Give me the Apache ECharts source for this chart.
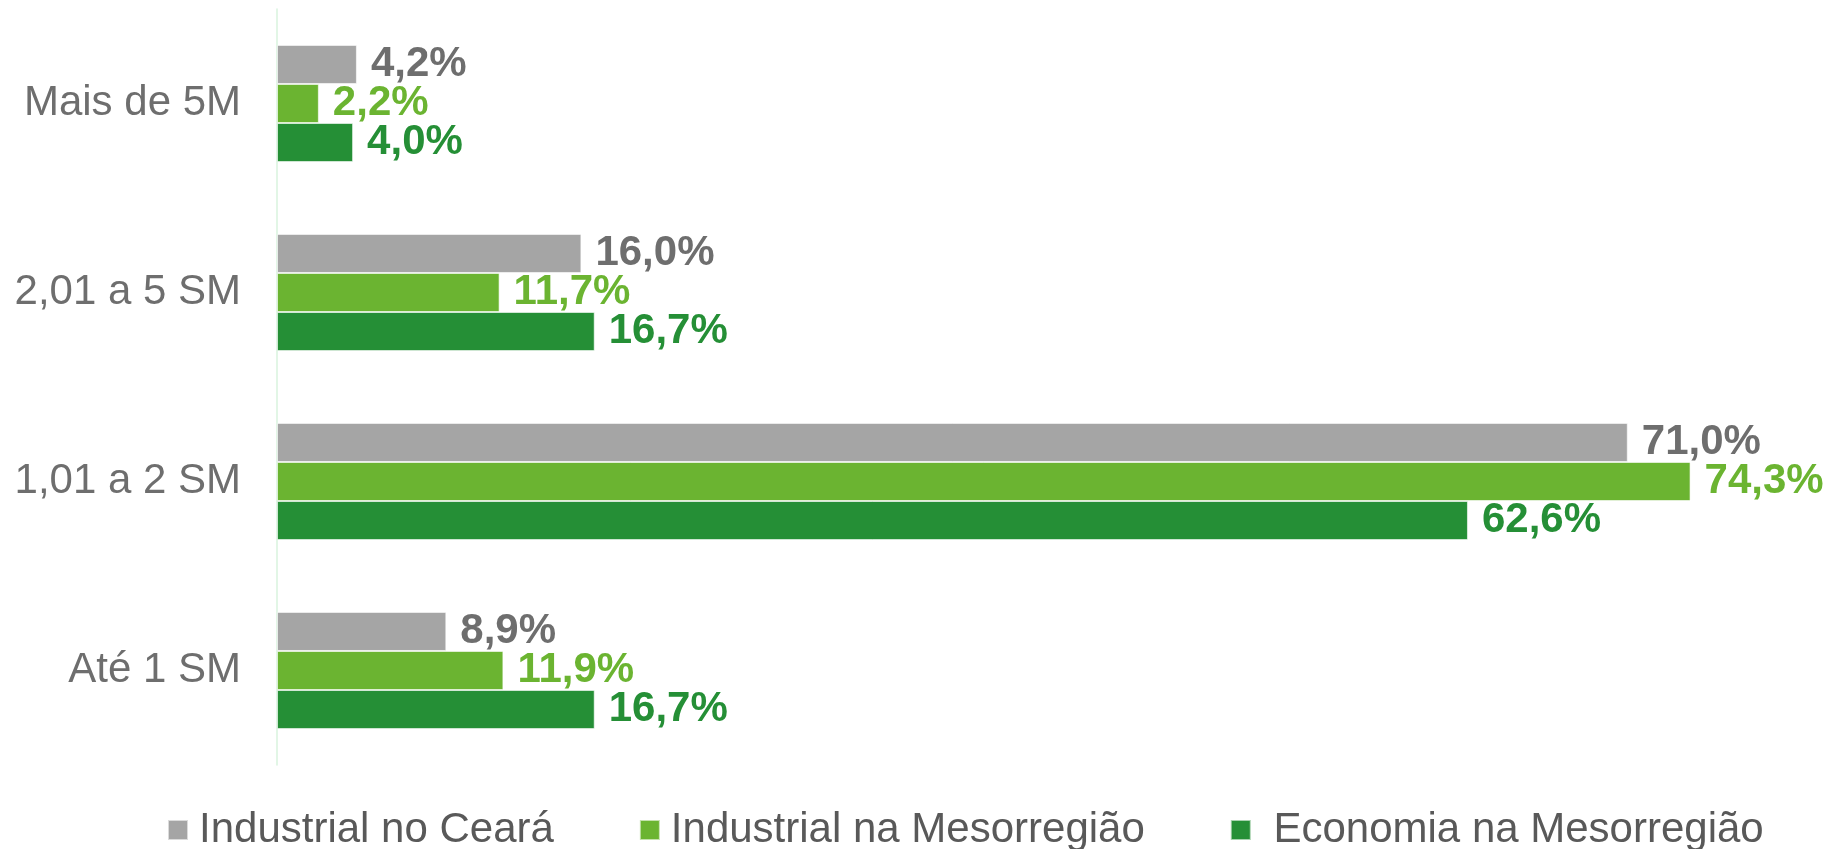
<!DOCTYPE html>
<html>
<head>
<meta charset="utf-8">
<script src="https://cdn.jsdelivr.net/npm/echarts@6/dist/echarts.min.js"></script>
<style>html,body{margin:0;padding:0;background:#fff;}#c{width:1827px;height:849px;}</style>
</head>
<body>
<div id="c"></div>
<script>
const categories = ['Mais de 5M', '2,01 a 5 SM', '1,01 a 2 SM', 'Até 1 SM'];
const seriesNames = ['Industrial no Ceará', 'Industrial na Mesorregião', 'Economia na Mesorregião'];
const industrialCeara = [4.2, 16.0, 71.0, 8.9];
const industrialMeso = [2.2, 11.7, 74.3, 11.9];
const economiaMeso = [4.0, 16.7, 62.6, 16.7];

const colors = ['#A5A5A5', '#6BB431', '#258F36'];
const labelColors = ['#6E6E6E', '#6BB431', '#258F36'];
const FONT = "'Liberation Sans', Arial, sans-serif";
const fmt = p => p.value.toFixed(1).replace('.', ',') + '%';

const dataSets = [industrialCeara, industrialMeso, economiaMeso];
const chart = echarts.init(document.getElementById('c'));
chart.setOption({
  animation: false,
  grid: { left: 277, right: 28, top: 9, bottom: 84, containLabel: false },
  xAxis: { type: 'value', min: 0, max: 80, show: false },
  yAxis: {
    type: 'category', data: categories, inverse: true,
    axisLine: { show: true, lineStyle: { color: '#D8F3DE', width: 1.5 } },
    axisTick: { show: false },
    axisLabel: { color: '#6E6E6E', fontSize: 42, fontFamily: FONT, margin: 36 }
  },
  legend: {
    left: 162, top: 804, itemWidth: 20, itemHeight: 20, itemGap: 85,
    icon: 'rect',
    textStyle: { color: '#595959', fontSize: 42, fontFamily: FONT, padding: [0, 0, 0, 6] },
    formatter: n => n === 'Economia na Mesorregião' ? ' ' + n : n,
    data: seriesNames
  },
  series: dataSets.map((d, i) => ({
    name: seriesNames[i], type: 'bar', data: d,
    barGap: '0%', barCategoryGap: '38%',
    itemStyle: { color: colors[i], borderColor: 'rgba(255,255,255,0.6)', borderWidth: 1 },
    label: {
      show: true, position: 'right', distance: 14, formatter: fmt,
      color: labelColors[i], fontSize: 42, fontWeight: 'bold', fontFamily: FONT
    }
  }))
});
</script>
</body>
</html>
